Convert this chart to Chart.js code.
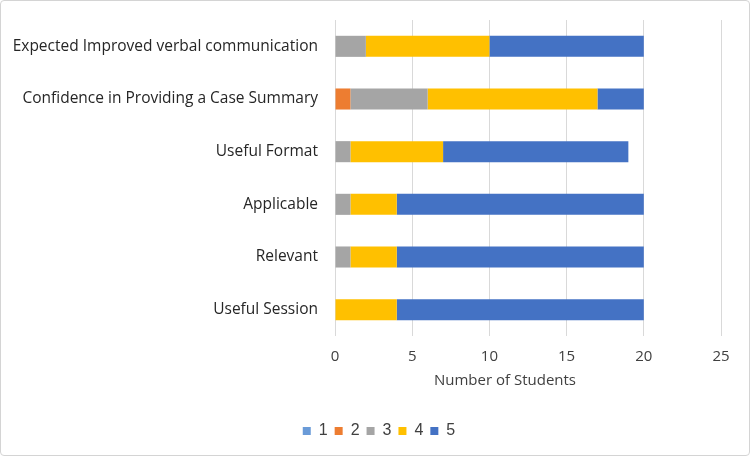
<!DOCTYPE html>
<html>
<head>
<meta charset="utf-8">
<script src="https://cdn.jsdelivr.net/npm/chart.js@4.4.1/dist/chart.umd.min.js"></script>
<style>
  html, body { margin: 0; padding: 0; background: #fff; }
  #wrap { position: relative; width: 750px; height: 456px; box-sizing: border-box; border: 1px solid #d4d4d4; border-radius: 4px; overflow: hidden; }
  #chart { display: block; }
</style>
</head>
<body>
<div id="wrap"><canvas id="chart" width="748" height="454"></canvas></div>
<script>
// Categorías (de arriba hacia abajo)
const categories = [
  'Expected Improved verbal communication',
  'Confidence in Providing a Case Summary',
  'Useful Format',
  'Applicable',
  'Relevant',
  'Useful Session'
];

// Respuestas por nivel de la escala (1 a 5)
const rating1 = [0, 0, 0, 0, 0, 0];
const rating2 = [0, 1, 0, 0, 0, 0];
const rating3 = [2, 5, 1, 1, 1, 0];
const rating4 = [8, 11, 6, 3, 3, 4];
const rating5 = [10, 3, 12, 16, 16, 16];

const seriesLabels = ['1', '2', '3', '4', '5'];
const xTicks = [0, 5, 10, 15, 20, 25];
const xTitle = 'Number of Students';

const COLORS = ['#6a9bd8', '#ed7d31', '#a5a5a5', '#ffc000', '#4472c4'];
const FONT = '"Open Sans", sans-serif';
Chart.defaults.font.family = FONT;
Chart.defaults.color = '#262626';

const series = [rating1, rating2, rating3, rating4, rating5];

// Título del eje X dibujado a mano (va un poco a la izquierda del centro, como en Excel)
const axisTitlePlugin = {
  id: 'axisTitle',
  afterLayout(chart) {
    // la leyenda va un poco corrida a la derecha
    chart.legend.left += 16;
    chart.legend.right += 16;
  },
  afterDraw(chart) {
    const ctx = chart.ctx;
    ctx.save();
    ctx.font = '15px ' + FONT;
    ctx.fillStyle = '#404040';
    ctx.textAlign = 'center';
    ctx.textBaseline = 'middle';
    ctx.fillText(xTitle, 504, 380);
    ctx.restore();
  }
};

new Chart(document.getElementById('chart'), {
  type: 'bar',
  data: {
    labels: categories,
    datasets: series.map((d, i) => ({
      label: seriesLabels[i],
      data: d,
      backgroundColor: COLORS[i],
      borderWidth: 0,
      barPercentage: 0.4,
      categoryPercentage: 1
    }))
  },
  plugins: [axisTitlePlugin],
  options: {
    indexAxis: 'y',
    responsive: false,
    animation: false,
    layout: { padding: { top: 19, right: 28, left: 4, bottom: 6 } },
    plugins: {
      tooltip: { enabled: false },
      legend: {
        position: 'bottom',
        labels: { boxWidth: 8, boxHeight: 8, padding: 7, font: { size: 16, family: '"Liberation Sans", Arial, sans-serif' }, color: '#404040' }
      }
    },
    scales: {
      x: {
        stacked: true,
        min: 0,
        max: 25,
        afterBuildTicks: (scale) => { scale.ticks = xTicks.map(v => ({ value: v })); },
        afterFit: (scale) => { scale.height = 80; },
        grid: { color: '#d9d9d9', drawTicks: false },
        border: { display: false },
        ticks: { padding: 12, font: { size: 15 }, color: '#404040' }
      },
      y: {
        stacked: true,
        grid: { display: false, drawTicks: false },
        border: { display: false },
        // ancho fijo del eje; sin relleno extra arriba/abajo por las etiquetas
        afterFit: (scale) => { scale.width = 330; scale.paddingTop = 0; scale.paddingBottom = 0; },
        ticks: { padding: 17, font: { size: 15.5 }, color: '#262626' }
      }
    }
  }
});
</script>
</body>
</html>
